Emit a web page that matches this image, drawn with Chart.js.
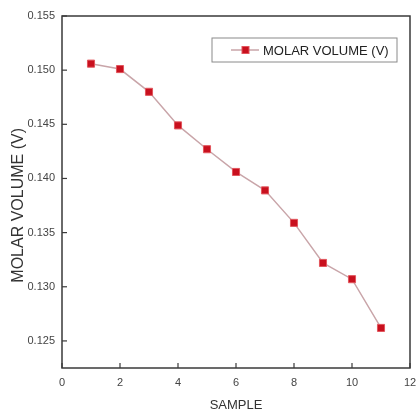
<!DOCTYPE html>
<html>
<head>
<meta charset="utf-8">
<script src="https://cdn.jsdelivr.net/npm/chart.js@4.4.1/dist/chart.umd.min.js"></script>
<style>
  html, body { margin: 0; padding: 0; background: #fff; }
  #wrap { width: 416px; height: 414px; }
</style>
</head>
<body>
<div id="wrap"><canvas id="myChart" width="416" height="414"></canvas></div>
<script>
var samples = [1, 2, 3, 4, 5, 6, 7, 8, 9, 10, 11];
var molarVolume = [0.1506, 0.1501, 0.1480, 0.1449, 0.1427, 0.1406, 0.1389, 0.1359, 0.1322, 0.1307, 0.1262];
var xTicks = [0, 2, 4, 6, 8, 10, 12];
var yTicks = [0.125, 0.130, 0.135, 0.140, 0.145, 0.150, 0.155];

var axisColor = '#3a3a3a';
var labelColor = '#444444';
var markerFill = '#c8101e';
var markerEdge = '#e2555c';
var lineColor = '#c9a5a9';

// frame, inward ticks and the boxed legend
const framePlugin = {
    id: 'frame',
    afterDraw: function(chart) {
        const c = chart.ctx;
        const a = chart.chartArea;
        c.save();
        c.strokeStyle = axisColor;
        c.lineWidth = 1.5;
        c.strokeRect(a.left, a.top, a.right - a.left, a.bottom - a.top);

        c.lineWidth = 1.2;
        const xs = chart.scales.x;
        xs.ticks.forEach(function(t) {
            var px = xs.getPixelForValue(t.value);
            c.beginPath();
            c.moveTo(px, a.bottom);
            c.lineTo(px, a.bottom - 5);
            c.stroke();
        });
        const ys = chart.scales.y;
        ys.ticks.forEach(function(t) {
            var py = ys.getPixelForValue(t.value);
            c.beginPath();
            c.moveTo(a.left, py);
            c.lineTo(a.left + 5, py);
            c.stroke();
        });

        // legend
        const ds = chart.data.datasets[0];
        var bx = a.right - 198, by = a.top + 22, bw = 185, bh = 24;
        c.strokeStyle = '#8a8a8a';
        c.lineWidth = 1;
        c.strokeRect(bx, by, bw, bh);
        var my = by + bh / 2;
        c.strokeStyle = ds.borderColor;
        c.lineWidth = 1.5;
        c.beginPath();
        c.moveTo(bx + 19, my);
        c.lineTo(bx + 47, my);
        c.stroke();
        c.fillStyle = markerFill;
        c.strokeStyle = markerEdge;
        c.lineWidth = 1;
        c.fillRect(bx + 30, my - 3.5, 7, 7);
        c.strokeRect(bx + 30, my - 3.5, 7, 7);
        c.fillStyle = '#222222';
        c.font = '13px "Liberation Sans", Arial, sans-serif';
        c.textAlign = 'left';
        c.textBaseline = 'middle';
        c.fillText(ds.label, bx + 51, my + 1);
        c.restore();
    }
};

const ctx = document.getElementById('myChart');

let chart = new Chart(ctx, {
    type: 'line',
    data: {
        datasets: [{
            label: 'MOLAR VOLUME (V)',
            data: samples.map(function(s, i) { return {x: s, y: molarVolume[i]}; }),
            borderColor: lineColor,
            borderWidth: 1.5,
            tension: 0,
            pointStyle: 'rect',
            pointRadius: 5,
            pointHoverRadius: 5,
            pointBackgroundColor: markerFill,
            pointBorderColor: markerEdge,
            pointBorderWidth: 1
        }]
    },
    options: {
        responsive: false,
        animation: false,
        events: [],
        layout: { padding: { top: 16, right: 6, left: 0, bottom: 0 } },
        plugins: {
            legend: { display: false },
            tooltip: { enabled: false }
        },
        scales: {
            x: {
                type: 'linear',
                min: 0,
                max: 12,
                afterBuildTicks: function(s) { s.ticks = xTicks.map(function(v) { return {value: v}; }); },
                afterFit: function(s) { s.height = 46; s.paddingLeft = 0; s.paddingRight = 0; },
                grid: { display: false, drawTicks: false },
                border: { display: false },
                ticks: {
                    padding: 8,
                    color: labelColor,
                    font: { family: '"Liberation Sans", Arial, sans-serif', size: 11 },
                    maxRotation: 0
                },
                title: {
                    display: true,
                    text: 'SAMPLE',
                    color: '#333333',
                    font: { family: '"Liberation Sans", Arial, sans-serif', size: 13 },
                    padding: { top: 0, bottom: 1 }
                }
            },
            y: {
                min: 0.1225,
                max: 0.155,
                afterBuildTicks: function(s) { s.ticks = yTicks.map(function(v) { return {value: v}; }); },
                afterFit: function(s) { s.width = 62; s.paddingTop = 0; s.paddingBottom = 0; },
                grid: { display: false, drawTicks: false },
                border: { display: false },
                ticks: {
                    padding: 7,
                    color: labelColor,
                    font: { family: '"Liberation Sans", Arial, sans-serif', size: 11 },
                    callback: function(v) { return v.toFixed(3); }
                },
                title: {
                    display: true,
                    // trailing spaces nudge the centred title down like in the original
                    text: 'MOLAR VOLUME (V)      ',
                    color: '#333333',
                    font: { family: '"Liberation Sans", Arial, sans-serif', size: 16 },
                    padding: { top: 9, bottom: 0 }
                }
            }
        }
    },
    plugins: [framePlugin]
});
</script>
</body>
</html>
